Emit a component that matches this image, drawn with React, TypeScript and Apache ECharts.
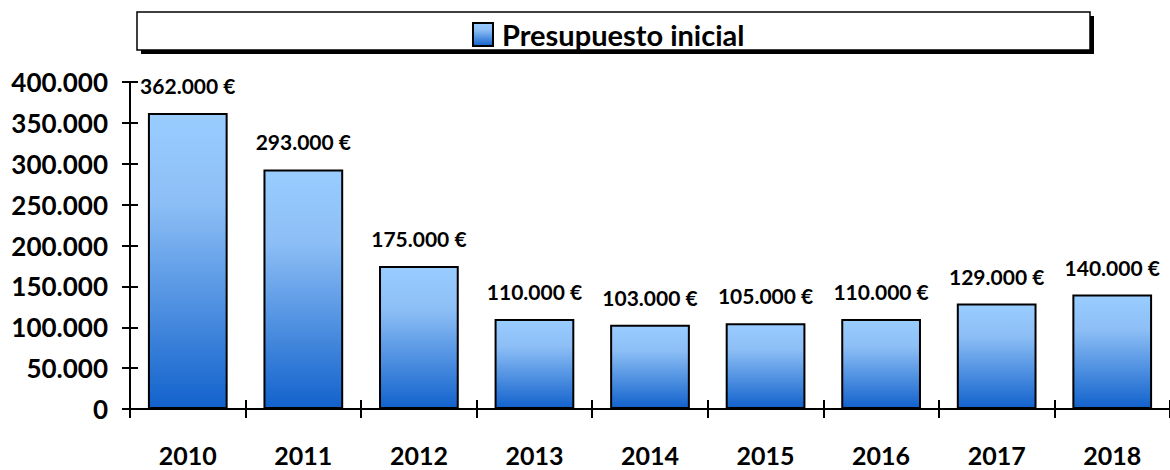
import React, { useEffect, useRef } from "react";
import * as echarts from "echarts";

const years = ["2010", "2011", "2012", "2013", "2014", "2015", "2016", "2017", "2018"];
const budget = [362000, 293000, 175000, 110000, 103000, 105000, 110000, 129000, 140000];
const seriesName = "Presupuesto inicial";
const yMin = 0;
const yMax = 400000;
const yStep = 50000;

const FONT = "Lato, 'Open Sans', sans-serif";

function fmt(v: number): string {
  const s = Math.round(v).toString();
  return s.replace(/\B(?=(\d{3})+(?!\d))/g, ".");
}

export default function App() {
  const ref = useRef<HTMLDivElement>(null);
  useEffect(() => {
    if (!ref.current) return;
    const chart = echarts.init(ref.current, undefined, { renderer: "svg" });
    const gridRect = { left: 130, top: 82, width: 1048, height: 327 };
    chart.setOption({
      animation: false,
      backgroundColor: "#ffffff",
      textStyle: { fontFamily: FONT },
      graphic: [
        { type: "rect", z: 0, shape: { x: 141, y: 16, width: 953, height: 38 }, style: { fill: "#000" } },
        { type: "rect", z: 1, shape: { x: 137, y: 12, width: 953, height: 38 }, style: { fill: "#fff", stroke: "#000", lineWidth: 1.5 } },
      ],
      legend: {
        z: 10,
        left: 472,
        top: 20,
        padding: 0,
        itemWidth: 20,
        itemHeight: 23,
        itemGap: 8,
        icon: "rect",
        textStyle: {
          fontSize: 29,
          fontWeight: "bold",
          color: "#000",
          fontFamily: FONT,
          padding: [0, 0, 0, 4],
        },
        data: [seriesName],
      },
      grid: [
        { ...gridRect, containLabel: false },
        { ...gridRect, containLabel: false },
      ],
      xAxis: [
        {
          type: "category",
          gridIndex: 0,
          data: years,
          boundaryGap: true,
          axisLine: { lineStyle: { color: "#000", width: 2 } },
          axisTick: { show: true, inside: false, length: 9, lineStyle: { color: "#000", width: 2 } },
          axisLabel: { margin: 33, fontSize: 25, fontWeight: "bold", color: "#000", fontFamily: FONT },
        },
        {
          type: "category",
          gridIndex: 1,
          data: years,
          boundaryGap: true,
          axisLine: { show: false },
          axisTick: { show: true, inside: true, length: 9, lineStyle: { color: "#000", width: 2 } },
          axisLabel: { show: false },
        },
      ],
      yAxis: [
        {
          type: "value",
          gridIndex: 0,
          min: yMin,
          max: yMax,
          interval: yStep,
          splitLine: { show: false },
          axisLine: { show: true, lineStyle: { color: "#000", width: 2 } },
          axisTick: { show: true, inside: false, length: 8, lineStyle: { color: "#000", width: 2 } },
          axisLabel: {
            margin: 22,
            fontSize: 26,
            fontWeight: "bold",
            color: "#000",
            fontFamily: FONT,
            formatter: (v: number) => fmt(v),
          },
        },
        {
          type: "value",
          gridIndex: 1,
          min: yMin,
          max: yMax,
          interval: yStep,
          splitLine: { show: false },
          axisLine: { show: false },
          axisTick: { show: true, inside: true, length: 8, lineStyle: { color: "#000", width: 2 } },
          axisLabel: { show: false },
        },
      ],
      series: [
        {
          name: seriesName,
          type: "bar",
          xAxisIndex: 0,
          yAxisIndex: 0,
          data: budget,
          barCategoryGap: "31%",
          itemStyle: {
            color: new echarts.graphic.LinearGradient(0, 0, 0, 1, [
              { offset: 0, color: "#99CCFF" },
              { offset: 0.3, color: "#8DBFF6" },
              { offset: 1, color: "#1262CC" },
            ]),
            borderColor: "#000",
            borderWidth: 2,
          },
          label: {
            show: true,
            position: "top",
            distance: 17,
            fontSize: 21,
            fontWeight: "bold",
            color: "#000",
            fontFamily: FONT,
            formatter: (p: any) => fmt(p.value) + " €",
          },
        },
      ],
    });
    return () => chart.dispose();
  }, []);
  return (
    <div
      ref={ref}
      style={{ position: "fixed", left: 0, top: 0, width: 1170, height: 470, background: "#fff" }}
    />
  );
}
